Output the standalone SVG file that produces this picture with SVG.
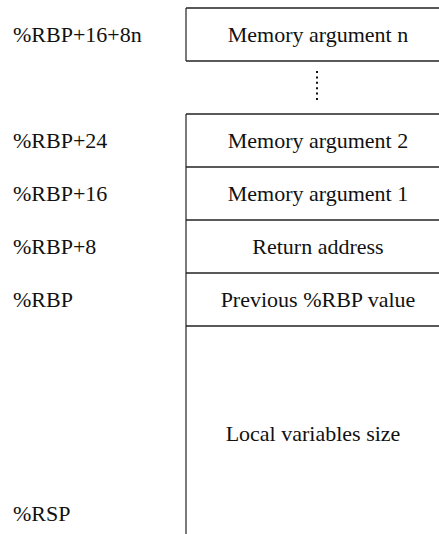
<svg xmlns="http://www.w3.org/2000/svg" width="439" height="534" viewBox="0 0 439 534">
  <style>
    text { font-family: "Liberation Serif", "Times New Roman", serif; font-size: 22px; fill: #111; }
    .cell { text-anchor: middle; }
    .rule { stroke: #222; stroke-width: 1.5; fill: none; }
    .side { stroke: #7a7a7a; stroke-width: 2; fill: none; }
  </style>
  <rect width="439" height="534" fill="#fff"/>

  <!-- address labels -->
  <g id="labels">
    <text x="13" y="42">%RBP+16+8n</text>
    <text x="13" y="148">%RBP+24</text>
    <text x="13" y="201">%RBP+16</text>
    <text x="13" y="254">%RBP+8</text>
    <text x="13" y="307">%RBP</text>
    <text x="13" y="521">%RSP</text>
  </g>

  <!-- stack slots -->
  <g id="arg-n">
    <line class="side" x1="186" y1="8" x2="186" y2="61"/>
    <line class="rule" x1="186" y1="8" x2="439" y2="8"/>
    <line class="rule" x1="186" y1="61" x2="439" y2="61"/>
    <text class="cell" x="318" y="42">Memory argument n</text>
  </g>

  <g id="ellipsis">
    <line x1="317" y1="71" x2="317" y2="101" stroke="#111" stroke-width="2" stroke-dasharray="2 3.4"/>
  </g>

  <g id="frame">
    <line class="side" x1="186" y1="114" x2="186" y2="534"/>
    <line class="rule" x1="186" y1="114" x2="439" y2="114"/>
  </g>
  <g id="arg-2">
    <line class="rule" x1="186" y1="167" x2="439" y2="167"/>
    <text class="cell" x="318" y="148">Memory argument 2</text>
  </g>
  <g id="arg-1">
    <line class="rule" x1="186" y1="220" x2="439" y2="220"/>
    <text class="cell" x="318" y="201">Memory argument 1</text>
  </g>
  <g id="return-address">
    <line class="rule" x1="186" y1="273" x2="439" y2="273"/>
    <text class="cell" x="318" y="254">Return address</text>
  </g>
  <g id="previous-rbp">
    <line class="rule" x1="186" y1="326" x2="439" y2="326"/>
    <text class="cell" x="318" y="307">Previous %RBP value</text>
  </g>
  <g id="locals">
    <text class="cell" x="313" y="441">Local variables size</text>
  </g>
</svg>
